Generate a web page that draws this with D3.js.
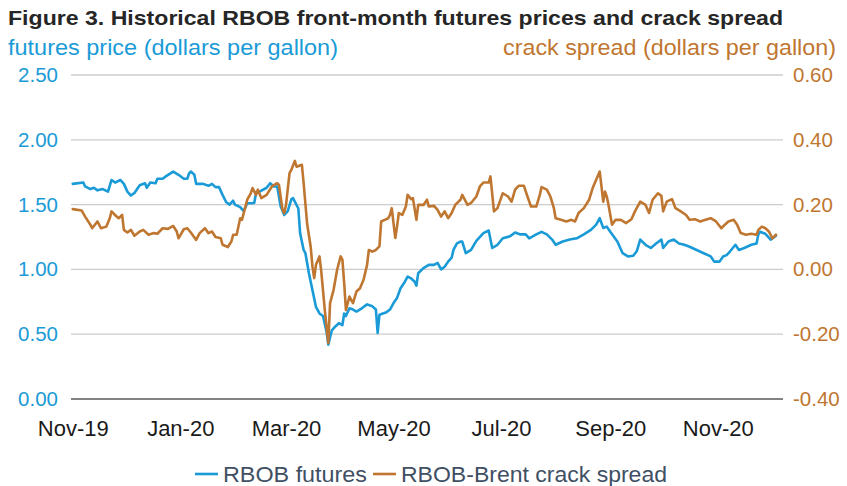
<!DOCTYPE html>
<html>
<head>
<meta charset="utf-8">
<script src="https://cdn.jsdelivr.net/npm/d3@7"></script>
<style>
  html, body { margin: 0; padding: 0; background: #fff; }
  svg { display: block; font-family: "Liberation Sans", Arial, sans-serif; }
</style>
</head>
<body>
<svg id="chart" width="847" height="486"></svg>
<script>
// ---------------- DATA ----------------
const titleText = "Figure 3. Historical RBOB front-month futures prices and crack spread";
const leftAxisTitle = "futures price (dollars per gallon)";
const rightAxisTitle = "crack spread (dollars per gallon)";
const seriesNames = ["RBOB futures", "RBOB-Brent crack spread"];

const futuresDates = ["2019-11-01","2019-11-07","2019-11-08","2019-11-11","2019-11-13","2019-11-15","2019-11-18","2019-11-21","2019-11-23","2019-11-25","2019-11-28","2019-11-30","2019-12-02","2019-12-04","2019-12-06","2019-12-09","2019-12-12","2019-12-13","2019-12-15","2019-12-18","2019-12-19","2019-12-22","2019-12-24","2019-12-28","2019-12-31","2020-01-03","2020-01-05","2020-01-06","2020-01-07","2020-01-09","2020-01-10","2020-01-14","2020-01-17","2020-01-19","2020-01-21","2020-01-23","2020-01-25","2020-01-27","2020-01-29","2020-01-31","2020-02-01","2020-02-04","2020-02-06","2020-02-08","2020-02-11","2020-02-12","2020-02-13","2020-02-15","2020-02-19","2020-02-21","2020-02-23","2020-02-25","2020-02-27","2020-02-29","2020-03-02","2020-03-04","2020-03-05","2020-03-08","2020-03-09","2020-03-11","2020-03-12","2020-03-14","2020-03-16","2020-03-18","2020-03-20","2020-03-22","2020-03-24","2020-03-25","2020-03-27","2020-03-29","2020-03-31","2020-04-02","2020-04-03","2020-04-04","2020-04-06","2020-04-08","2020-04-10","2020-04-13","2020-04-16","2020-04-19","2020-04-21","2020-04-22","2020-04-23","2020-04-25","2020-04-27","2020-04-29","2020-05-01","2020-05-03","2020-05-05","2020-05-07","2020-05-09","2020-05-11","2020-05-13","2020-05-14","2020-05-15","2020-05-18","2020-05-21","2020-05-24","2020-05-26","2020-05-28","2020-05-30","2020-06-01","2020-06-03","2020-06-04","2020-06-06","2020-06-08","2020-06-09","2020-06-11","2020-06-14","2020-06-17","2020-06-21","2020-06-24","2020-06-26","2020-06-29","2020-07-02","2020-07-06","2020-07-09","2020-07-12","2020-07-15","2020-07-17","2020-07-21","2020-07-24","2020-07-27","2020-07-30","2020-08-01","2020-08-05","2020-08-09","2020-08-13","2020-08-17","2020-08-21","2020-08-24","2020-08-26","2020-08-28","2020-08-30","2020-09-01","2020-09-05","2020-09-08","2020-09-11","2020-09-14","2020-09-16","2020-09-18","2020-09-21","2020-09-24","2020-09-27","2020-09-30","2020-10-01","2020-10-04","2020-10-07","2020-10-10","2020-10-13","2020-10-16","2020-10-20","2020-10-24","2020-10-28","2020-10-30","2020-11-02","2020-11-04","2020-11-06","2020-11-08","2020-11-11","2020-11-13","2020-11-16","2020-11-20","2020-11-23","2020-11-24","2020-11-25","2020-11-28","2020-12-01","2020-12-04"];
const futuresValues = [1.66,1.67,1.64,1.62,1.63,1.61,1.62,1.60,1.69,1.67,1.69,1.66,1.60,1.57,1.59,1.65,1.665,1.63,1.67,1.665,1.70,1.70,1.72,1.755,1.73,1.70,1.70,1.74,1.755,1.73,1.66,1.66,1.645,1.66,1.635,1.635,1.575,1.52,1.50,1.53,1.50,1.48,1.45,1.51,1.51,1.515,1.59,1.60,1.63,1.665,1.64,1.64,1.485,1.42,1.45,1.54,1.55,1.47,1.28,1.15,1.125,0.97,0.84,0.71,0.66,0.64,0.52,0.42,0.53,0.56,0.585,0.57,0.66,0.64,0.70,0.69,0.675,0.70,0.73,0.715,0.69,0.51,0.65,0.66,0.67,0.69,0.74,0.78,0.855,0.895,0.945,0.93,0.905,0.875,0.97,1.01,1.035,1.035,1.05,1.00,1.02,1.06,1.09,1.15,1.20,1.215,1.215,1.125,1.15,1.22,1.28,1.30,1.165,1.19,1.24,1.255,1.285,1.27,1.27,1.24,1.27,1.29,1.27,1.23,1.19,1.215,1.23,1.24,1.27,1.305,1.345,1.395,1.32,1.33,1.29,1.215,1.125,1.10,1.105,1.14,1.23,1.19,1.165,1.20,1.23,1.165,1.215,1.23,1.20,1.19,1.175,1.15,1.125,1.10,1.06,1.06,1.10,1.11,1.14,1.19,1.15,1.165,1.19,1.20,1.27,1.29,1.275,1.23,1.26];

const crackDates = ["2019-11-01","2019-11-06","2019-11-08","2019-11-11","2019-11-12","2019-11-15","2019-11-17","2019-11-20","2019-11-22","2019-11-23","2019-11-25","2019-11-27","2019-11-29","2019-11-30","2019-12-02","2019-12-04","2019-12-06","2019-12-09","2019-12-11","2019-12-14","2019-12-17","2019-12-19","2019-12-22","2019-12-25","2019-12-28","2019-12-30","2019-12-31","2020-01-03","2020-01-05","2020-01-07","2020-01-10","2020-01-12","2020-01-15","2020-01-17","2020-01-19","2020-01-21","2020-01-24","2020-01-25","2020-01-28","2020-01-30","2020-01-31","2020-02-02","2020-02-04","2020-02-05","2020-02-08","2020-02-10","2020-02-11","2020-02-13","2020-02-14","2020-02-16","2020-02-19","2020-02-22","2020-02-25","2020-02-26","2020-02-28","2020-02-29","2020-03-01","2020-03-03","2020-03-04","2020-03-06","2020-03-07","2020-03-10","2020-03-11","2020-03-13","2020-03-15","2020-03-16","2020-03-17","2020-03-18","2020-03-20","2020-03-21","2020-03-23","2020-03-25","2020-03-26","2020-03-28","2020-03-30","2020-04-01","2020-04-02","2020-04-03","2020-04-04","2020-04-06","2020-04-08","2020-04-10","2020-04-12","2020-04-14","2020-04-16","2020-04-17","2020-04-19","2020-04-21","2020-04-23","2020-04-24","2020-04-26","2020-04-28","2020-04-29","2020-04-30","2020-05-02","2020-05-03","2020-05-04","2020-05-06","2020-05-08","2020-05-09","2020-05-11","2020-05-12","2020-05-14","2020-05-15","2020-05-18","2020-05-20","2020-05-21","2020-05-24","2020-05-26","2020-05-28","2020-05-30","2020-06-01","2020-06-03","2020-06-05","2020-06-08","2020-06-09","2020-06-12","2020-06-14","2020-06-17","2020-06-19","2020-06-21","2020-06-24","2020-06-25","2020-06-27","2020-06-29","2020-07-01","2020-07-02","2020-07-05","2020-07-07","2020-07-09","2020-07-11","2020-07-14","2020-07-16","2020-07-18","2020-07-21","2020-07-23","2020-07-24","2020-07-27","2020-07-29","2020-07-31","2020-08-01","2020-08-04","2020-08-07","2020-08-10","2020-08-12","2020-08-14","2020-08-17","2020-08-20","2020-08-22","2020-08-26","2020-08-27","2020-08-28","2020-08-29","2020-08-30","2020-08-31","2020-09-02","2020-09-04","2020-09-07","2020-09-10","2020-09-13","2020-09-15","2020-09-18","2020-09-21","2020-09-23","2020-09-25","2020-09-28","2020-09-30","2020-10-01","2020-10-03","2020-10-06","2020-10-08","2020-10-11","2020-10-14","2020-10-16","2020-10-19","2020-10-22","2020-10-25","2020-10-28","2020-10-31","2020-11-03","2020-11-05","2020-11-07","2020-11-10","2020-11-12","2020-11-14","2020-11-17","2020-11-20","2020-11-23","2020-11-24","2020-11-26","2020-11-28","2020-11-30","2020-12-02","2020-12-04"];
const crackValues = [0.186,0.182,0.163,0.138,0.127,0.148,0.127,0.132,0.158,0.179,0.168,0.158,0.168,0.122,0.114,0.122,0.104,0.117,0.122,0.107,0.112,0.110,0.127,0.125,0.134,0.117,0.096,0.124,0.127,0.114,0.091,0.112,0.127,0.112,0.117,0.100,0.096,0.076,0.069,0.086,0.107,0.107,0.158,0.153,0.215,0.235,0.251,0.230,0.246,0.220,0.230,0.256,0.266,0.261,0.184,0.174,0.199,0.297,0.307,0.335,0.317,0.323,0.266,0.140,0.070,0.009,-0.027,0.014,0.040,-0.006,-0.125,-0.227,-0.104,-0.063,-0.001,0.040,0.030,-0.042,-0.125,-0.084,-0.104,-0.068,-0.058,-0.032,0.014,0.060,0.055,0.060,0.071,0.148,0.153,0.158,0.168,0.189,0.097,0.132,0.174,0.168,0.194,0.230,0.217,0.220,0.153,0.199,0.199,0.215,0.194,0.196,0.184,0.163,0.179,0.158,0.174,0.199,0.215,0.230,0.199,0.205,0.225,0.256,0.268,0.268,0.287,0.179,0.189,0.220,0.235,0.225,0.209,0.246,0.258,0.258,0.225,0.194,0.194,0.230,0.254,0.246,0.225,0.189,0.158,0.153,0.148,0.153,0.148,0.174,0.189,0.215,0.251,0.302,0.256,0.209,0.240,0.225,0.199,0.138,0.153,0.153,0.143,0.155,0.179,0.209,0.199,0.174,0.215,0.235,0.227,0.179,0.209,0.217,0.189,0.179,0.168,0.153,0.155,0.148,0.153,0.158,0.148,0.127,0.138,0.148,0.153,0.138,0.112,0.107,0.110,0.107,0.122,0.132,0.127,0.117,0.096,0.107];

const xTickDates = ["2019-11-01","2020-01-01","2020-03-01","2020-05-01","2020-07-01","2020-09-01","2020-11-01"];
const leftTicks = [0, 0.5, 1.0, 1.5, 2.0, 2.5];
const rightTicks = [-0.4, -0.2, 0, 0.2, 0.4, 0.6];
const xDomain = ["2019-10-31", "2020-12-08"];
const leftDomain = [0, 2.5];
const rightDomain = [-0.4, 0.6];

// ---------------- STYLE ----------------
const blue = "#1a9bd7";
const orange = "#bf7630";
const parse = d3.utcParse("%Y-%m-%d");
const fmt2 = d => d3.format(".2f")(d).replace("\u2212", "-");

const svg = d3.select("#chart");
const plot = { left: 71, right: 783, top: 75, bottom: 399 };

const x = d3.scaleUtc().domain(xDomain.map(parse)).range([plot.left, plot.right]);
const yL = d3.scaleLinear().domain(leftDomain).range([plot.bottom, plot.top]);
const yR = d3.scaleLinear().domain(rightDomain).range([plot.bottom, plot.top]);

// Title
svg.append("text")
  .attr("x", 8).attr("y", 25)
  .attr("font-size", 21).attr("font-weight", "bold")
  .attr("fill", "#262626")
  .attr("textLength", 775).attr("lengthAdjust", "spacingAndGlyphs")
  .text(titleText);

svg.append("text")
  .attr("x", 8).attr("y", 55)
  .attr("font-size", 22).attr("fill", blue)
  .attr("textLength", 330).attr("lengthAdjust", "spacingAndGlyphs")
  .text(leftAxisTitle);

svg.append("text")
  .attr("x", 503).attr("y", 55)
  .attr("font-size", 22).attr("fill", orange)
  .attr("textLength", 333).attr("lengthAdjust", "spacingAndGlyphs")
  .text(rightAxisTitle);

// Gridlines
svg.append("g")
  .selectAll("line")
  .data(leftTicks.filter(d => d > 0))
  .join("line")
  .attr("x1", plot.left).attr("x2", plot.right)
  .attr("y1", d => yL(d)).attr("y2", d => yL(d))
  .attr("stroke", "#cccccc").attr("stroke-width", 1.3);

// Left axis
const leftAxis = d3.axisLeft(yL).tickValues(leftTicks).tickSize(0).tickPadding(13)
  .tickFormat(fmt2);
const gL = svg.append("g").attr("transform", `translate(${plot.left},0)`).call(leftAxis);
gL.select(".domain").remove();
gL.selectAll("text").attr("font-size", 20.5).attr("fill", blue)
  .attr("font-family", '"Liberation Sans", Arial, sans-serif');

// Right axis
const rightAxis = d3.axisRight(yR).tickValues(rightTicks).tickSize(0).tickPadding(10)
  .tickFormat(fmt2);
const gR = svg.append("g").attr("transform", `translate(${plot.right},0)`).call(rightAxis);
gR.select(".domain").remove();
gR.selectAll("text").attr("font-size", 20.5).attr("fill", orange)
  .attr("font-family", '"Liberation Sans", Arial, sans-serif');

// Bottom axis
const bottomAxis = d3.axisBottom(x).tickValues(xTickDates.map(parse)).tickSize(0).tickPadding(21)
  .tickFormat(d3.utcFormat("%b-%y"));
const gB = svg.append("g").attr("transform", `translate(0,${plot.bottom})`).call(bottomAxis);
gB.select(".domain").remove();
gB.selectAll("text").attr("font-size", 22).attr("fill", "#1a1a1a")
  .attr("font-family", '"Liberation Sans", Arial, sans-serif');

svg.append("line")
  .attr("x1", plot.left).attr("x2", plot.right)
  .attr("y1", yL(0)).attr("y2", yL(0))
  .attr("stroke", "#595959").attr("stroke-width", 1.4);

// Lines
const futuresData = futuresDates.map((d, i) => ({ date: parse(d), value: futuresValues[i] }));
const crackData = crackDates.map((d, i) => ({ date: parse(d), value: crackValues[i] }));

svg.append("path")
  .datum(futuresData)
  .attr("fill", "none").attr("stroke", blue).attr("stroke-width", 2.6)
  .attr("stroke-linejoin", "round").attr("stroke-linecap", "round")
  .attr("d", d3.line().x(d => x(d.date)).y(d => yL(d.value)));

svg.append("path")
  .datum(crackData)
  .attr("fill", "none").attr("stroke", orange).attr("stroke-width", 2.6)
  .attr("stroke-linejoin", "round").attr("stroke-linecap", "round")
  .attr("d", d3.line().x(d => x(d.date)).y(d => yR(d.value)));

// Legend
const legend = svg.append("g").attr("transform", "translate(0,474)");
const legendItems = [
  { name: seriesNames[0], color: blue, x: 195, w: 144 },
  { name: seriesNames[1], color: orange, x: 373, w: 266 }
];
legendItems.forEach(it => {
  legend.append("line")
    .attr("x1", it.x).attr("x2", it.x + 23).attr("y1", 0).attr("y2", 0)
    .attr("stroke", it.color).attr("stroke-width", 2.6);
  legend.append("text")
    .attr("x", it.x + 28).attr("y", 0).attr("dy", "0.35em")
    .attr("font-size", 22).attr("fill", "#404f63")
    .attr("textLength", it.w).attr("lengthAdjust", "spacingAndGlyphs")
    .text(it.name);
});
</script>
</body>
</html>
